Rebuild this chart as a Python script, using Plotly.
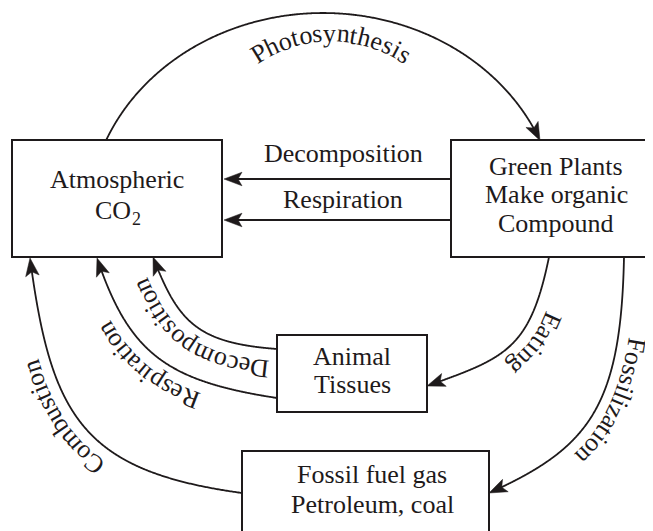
import numpy as np
import plotly.graph_objects as go

W, H = 653, 531
PAGE_MARGIN = 8  # default body margin of the html page
FONT = "Liberation Serif, Times New Roman, Times, serif"
FS = 26
INK = "#1e1a1b"

# ---------------- text content ----------------
atm_lines = ["Atmospheric", "CO"]
atm_sub = "2"
plant_lines = ["Green Plants", "Make organic", "Compound"]
animal_lines = ["Animal", "Tissues"]
fossil_lines = ["Fossil fuel gas", "Petroleum, coal"]
straight_labels = ["Decomposition", "Respiration"]
curve_labels = ["Photosynthesis", "Decomposition", "Respiration",
                "Combustion", "Eating", "Fossilization"]

# Times advance widths (1/1000 em) for laying letters along curves
TW = {'P': 556, 'h': 500, 'o': 500, 't': 278, 's': 389, 'y': 500, 'n': 500,
      'e': 444, 'i': 278, 'D': 722, 'c': 444, 'm': 778, 'p': 500, 'R': 667,
      'r': 333, 'a': 444, 'C': 667, 'b': 500, 'u': 500, 'E': 611, 'g': 500,
      'F': 556, 'l': 278, 'z': 444, ' ': 250}

shapes = []
annotations = []


def rect(x0, y0, x1, y1):
    shapes.append(dict(type="rect", xref="x", yref="y", x0=x0, y0=y0, x1=x1, y1=y1,
                       line=dict(color=INK, width=2), fillcolor="rgba(0,0,0,0)"))


def poly(pts, width=1.8):
    d = "M " + " L ".join(f"{x:.2f},{y:.2f}" for x, y in pts)
    shapes.append(dict(type="path", path=d, xref="x", yref="y",
                       line=dict(color=INK, width=width)))


def arrowhead(tip, d, L=18, hw=6.8, notch=4):
    tip = np.asarray(tip, float)
    d = np.asarray(d, float)
    d = d / np.linalg.norm(d)
    n = np.array([-d[1], d[0]])
    back = tip - L * d
    p1 = back + hw * n
    p2 = back - hw * n
    pn = tip - (L - notch) * d
    path = (f"M {tip[0]:.2f},{tip[1]:.2f} L {p1[0]:.2f},{p1[1]:.2f} "
            f"L {pn[0]:.2f},{pn[1]:.2f} L {p2[0]:.2f},{p2[1]:.2f} Z")
    shapes.append(dict(type="path", path=path, xref="x", yref="y",
                       fillcolor=INK, line=dict(color=INK, width=0.5)))


def arrow_curve(pts, width=1.8, L=18):
    pts = np.asarray(pts, float)
    tip = pts[-1]
    dist = np.linalg.norm(pts - tip, axis=1)
    k = np.argmax(dist < 6)
    d = tip - pts[k - 1]
    keep = dist > (L - 6)
    poly(pts[keep], width)
    arrowhead(tip, d, L=L)


def bezier(P, n=400):
    P = np.array(P, float)
    t = np.linspace(0, 1, n)[:, None]
    return ((1 - t) ** 3 * P[0] + 3 * (1 - t) ** 2 * t * P[1]
            + 3 * (1 - t) * t ** 2 * P[2] + t ** 3 * P[3])


def label(x, baseline, text, size=FS, anchor="center"):
    annotations.append(dict(x=x, y=baseline - 0.34 * size, xref="x", yref="y",
                            text=text, showarrow=False, xanchor=anchor, yanchor="middle",
                            font=dict(family=FONT, size=size, color=INK)))


def text_on_path(pts, text, target, offset, size=FS, track=1.0):
    pts = np.asarray(pts, float)
    d = np.gradient(pts, axis=0)
    d /= np.linalg.norm(d, axis=1)[:, None]
    up = np.stack([d[:, 1], -d[:, 0]], 1)
    base = pts + offset * up
    seg = np.linalg.norm(np.diff(base, axis=0), axis=1)
    s = np.concatenate([[0], np.cumsum(seg)])
    ic = np.argmin(np.linalg.norm(base - np.asarray(target, float), axis=1))
    widths = np.array([TW.get(c, 500) for c in text]) / 1000 * size * track
    s0 = s[ic] - widths.sum() / 2
    centers = s0 + np.concatenate([[0], np.cumsum(widths)[:-1]]) + widths / 2
    for c, sc in zip(text, centers):
        x = np.interp(sc, s, base[:, 0])
        y = np.interp(sc, s, base[:, 1])
        ux = np.interp(sc, s, up[:, 0])
        uy = np.interp(sc, s, up[:, 1])
        nn = np.hypot(ux, uy)
        ux, uy = ux / nn, uy / nn
        ang = np.degrees(np.arctan2(ux, -uy))
        cx = x + ux * 0.34 * size
        cy = y + uy * 0.34 * size
        annotations.append(dict(x=cx, y=cy, xref="x", yref="y", text=c,
                                showarrow=False, xanchor="center", yanchor="middle",
                                textangle=float(ang),
                                font=dict(family=FONT, size=size, color=INK)))


# ---------------- boxes ----------------
rect(12, 140, 222, 257)      # Atmospheric CO2
rect(451, 140, 653, 257)     # Green plants
rect(277, 335, 427, 412)     # Animal tissues
rect(242, 451, 489, 560)     # Fossil fuel

label(117, 188, atm_lines[0])
label(113, 219, atm_lines[1])
label(136, 225, atm_sub, size=18)
for txt, b in zip(plant_lines, [175, 203.5, 232]):
    label(556, b, txt)
for txt, b in zip(animal_lines, [365, 393]):
    label(352, b, txt)
for txt, b in zip(fossil_lines, [483, 513]):
    label(372, b, txt)

# ---------------- straight arrows ----------------
for yy in (179, 220):
    poly([(451, yy), (236, yy)], width=2)
    arrowhead((224, yy), (-1, 0))
label(343, 162, straight_labels[0])
label(343, 208, straight_labels[1])

# ---------------- photosynthesis arc ----------------
ecx, ecy, ea, eb = 323, 220, 235, 207
t0 = np.arccos(217 / ea)
tt = np.linspace(np.pi - t0, t0, 500)
arc = np.stack([ecx + ea * np.cos(tt), ecy - eb * np.sin(tt)], 1)
arrow_curve(arc)

phi = np.linspace(np.radians(160), np.radians(20), 400)
circ = np.stack([331 + 130 * np.cos(phi), 172 - 130 * np.sin(phi)], 1)
text_on_path(circ, curve_labels[0], (331, 42), 0)

# ---------------- lower curves ----------------
decomp = bezier([(277, 349), (197, 343), (178, 322), (153, 257)])
arrow_curve(decomp)
text_on_path(decomp, curve_labels[1], (195, 338), 12)

resp = bezier([(277, 398), (166, 381), (129, 353), (97, 258)])
arrow_curve(resp)
text_on_path(resp, curve_labels[2], (140, 375), 12)

comb = bezier([(242, 493), (82, 471), (51, 416), (30, 258)])
arrow_curve(comb)
text_on_path(comb, curve_labels[3], (61, 418), 11)

eat = bezier([(549, 257), (530, 350), (505, 358), (427, 386)])
arrow_curve(eat)
text_on_path(eat, curve_labels[4], (540, 347), 11)

foss = bezier([(624, 257), (621, 407), (589, 448), (489, 493)])
arrow_curve(foss)
text_on_path(foss, curve_labels[5], (618, 403), 10)

fig = go.Figure()
fig.add_trace(go.Scatter(x=[PAGE_MARGIN, W], y=[PAGE_MARGIN, H], mode="markers",
                         marker=dict(opacity=0), hoverinfo="skip", showlegend=False))
# the page places the figure 8px in from the window corner; the axis ranges
# start at 8 so that data coordinates equal window pixels
fig.update_layout(
    width=W, height=H, autosize=False,
    margin=dict(l=0, r=0, t=0, b=0),
    paper_bgcolor="white", plot_bgcolor="white",
    xaxis=dict(range=[PAGE_MARGIN, W + PAGE_MARGIN], visible=False, fixedrange=True),
    yaxis=dict(range=[H + PAGE_MARGIN, PAGE_MARGIN], visible=False, fixedrange=True),
    shapes=shapes, annotations=annotations, showlegend=False,
)
fig.write_html("out.html")
